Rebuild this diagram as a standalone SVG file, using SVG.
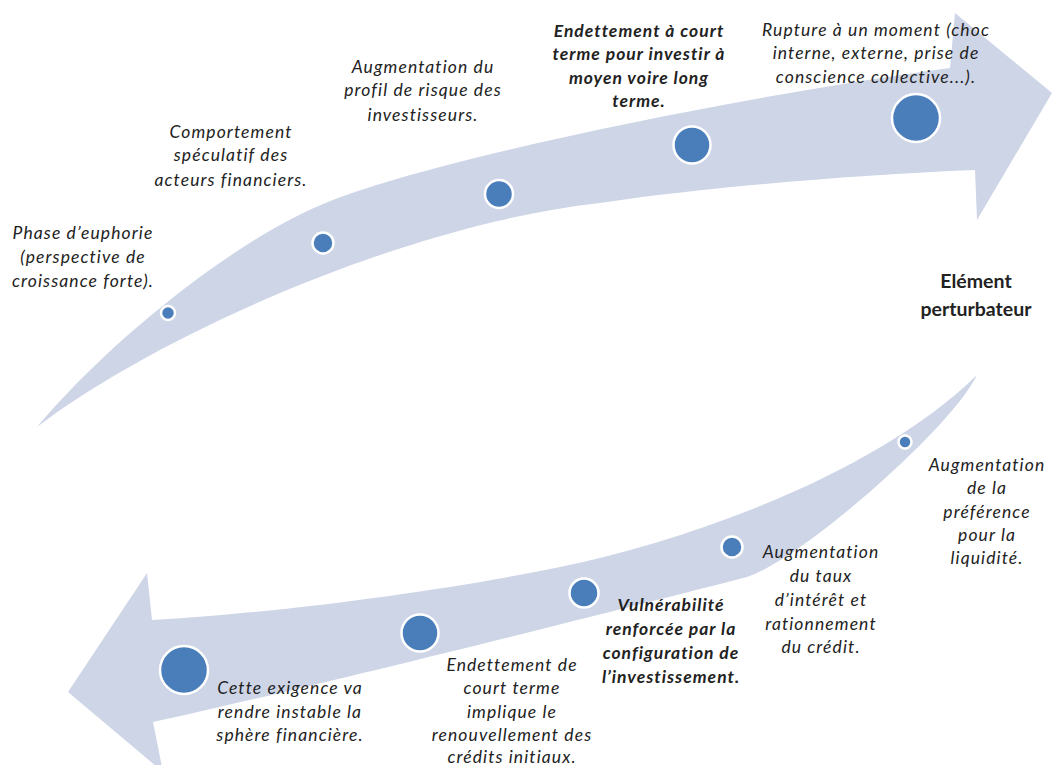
<svg xmlns="http://www.w3.org/2000/svg" width="1055" height="765" viewBox="0 0 1055 765">
<style>
  .band { fill: #cdd5e7; stroke: none; }
  .dot { fill: #4a7ebb; stroke: #ffffff; stroke-width: 2.5; }
  .lbl { font-family: Lato, "Liberation Sans", sans-serif; font-size: 17.5px; letter-spacing: 1.1px; font-style: italic; fill: #222222; text-anchor: middle; }
  .b { font-weight: bold; letter-spacing: 1px; }
  .title { font-family: Lato, "Liberation Sans", sans-serif; font-size: 19.5px; font-weight: bold; fill: #222222; text-anchor: middle; }
</style>
<rect width="1055" height="765" fill="#ffffff"/>
<g id="connectors">
  <path id="arrow-top" class="band" d="M37,427 C110,340 240,235 333,200 C450,155 750,95 950,68 L955,13 L1052,93 L977,220 L975,170 C850,175 700,188 600,203 C400,225 150,340 37,427 Z"/>
  <path id="arrow-bottom" class="band" d="M977,375 C950,430 800,560 747,577 C600,615 300,690 153,722 L163,772 L68,692 L147,573 L152,620 C280,613 450,590 560,567 C700,538 880,470 977,375 Z"/>
</g>
<g id="node-1">
  <circle class="dot" cx="168" cy="313" r="7"/>
  <text class="lbl" x="83" y="239">Phase d’euphorie<tspan x="83" y="263">(perspective de</tspan><tspan x="83" y="287">croissance forte).</tspan></text>
</g>
<g id="node-2">
  <circle class="dot" cx="323" cy="243" r="10.5"/>
  <text class="lbl" x="231" y="138">Comportement<tspan x="231" y="161">spéculatif des</tspan><tspan x="231" y="186">acteurs financiers.</tspan></text>
</g>
<g id="node-3">
  <circle class="dot" cx="499" cy="194" r="14"/>
  <text class="lbl" x="423" y="73">Augmentation du<tspan x="423" y="96">profil de risque des</tspan><tspan x="423" y="121">investisseurs.</tspan></text>
</g>
<g id="node-4">
  <circle class="dot" cx="692" cy="145" r="18.5"/>
  <text class="lbl b" x="639" y="37">Endettement à court<tspan x="639" y="60">terme pour investir à</tspan><tspan x="639" y="84">moyen voire long</tspan><tspan x="639" y="107">terme.</tspan></text>
</g>
<g id="node-5">
  <circle class="dot" cx="916" cy="118" r="24"/>
  <text class="lbl" x="876" y="36">Rupture à un moment (choc<tspan x="876" y="59">interne, externe, prise de</tspan><tspan x="876" y="83">conscience collective...).</tspan></text>
</g>
<g id="node-pivot">
  <text class="title" x="976" y="288">Elément<tspan x="976" y="316">perturbateur</tspan></text>
</g>
<g id="node-6">
  <circle class="dot" cx="905" cy="442" r="6.5"/>
  <text class="lbl" x="987" y="471">Augmentation<tspan x="987" y="494">de la</tspan><tspan x="987" y="518">préférence</tspan><tspan x="987" y="541">pour la</tspan><tspan x="987" y="564">liquidité.</tspan></text>
</g>
<g id="node-7">
  <circle class="dot" cx="732" cy="547" r="10.5"/>
  <text class="lbl" x="821" y="558">Augmentation<tspan x="821" y="582">du taux</tspan><tspan x="821" y="606">d’intérêt et</tspan><tspan x="821" y="630">rationnement</tspan><tspan x="821" y="653">du crédit.</tspan></text>
</g>
<g id="node-8">
  <circle class="dot" cx="584" cy="593" r="14.5"/>
  <text class="lbl b" x="671" y="611">Vulnérabilité<tspan x="671" y="635">renforcée par la</tspan><tspan x="671" y="659">configuration de</tspan><tspan x="671" y="683">l’investissement.</tspan></text>
</g>
<g id="node-9">
  <circle class="dot" cx="420" cy="633" r="18.5"/>
  <text class="lbl" x="512" y="671">Endettement de<tspan x="512" y="694">court terme</tspan><tspan x="512" y="718">implique le</tspan><tspan x="512" y="741">renouvellement des</tspan><tspan x="512" y="763">crédits initiaux.</tspan></text>
</g>
<g id="node-10">
  <circle class="dot" cx="184" cy="670" r="24"/>
  <text class="lbl" x="290" y="694">Cette exigence va<tspan x="290" y="718">rendre instable la</tspan><tspan x="290" y="741">sphère financière.</tspan></text>
</g>
</svg>
